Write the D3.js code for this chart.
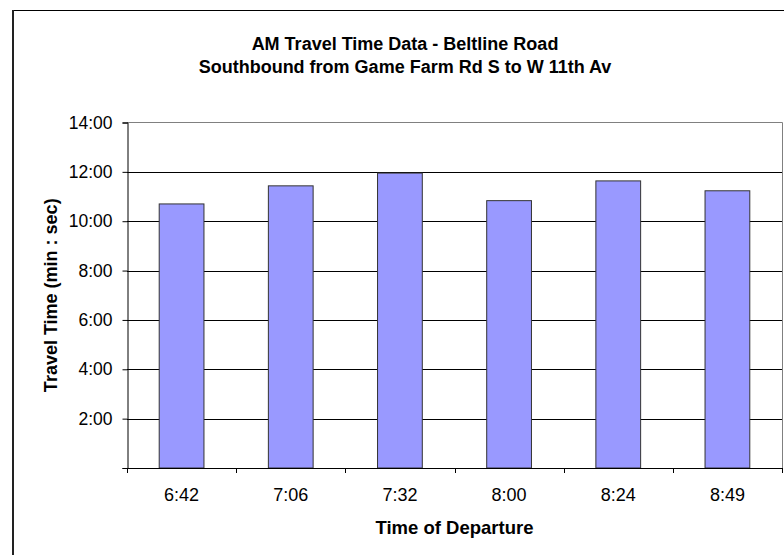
<!DOCTYPE html>
<html><head><meta charset="utf-8">
<script src="https://cdn.jsdelivr.net/npm/d3@7"></script>
<style>body{margin:0;background:#fff}svg{display:block;font-family:"Liberation Sans",Arial,sans-serif}</style>
</head><body><svg id="c" width="784" height="555"></svg>
<script>
const categories = ["6:42","7:06","7:32","8:00","8:24","8:49"];
const travelSeconds = [642, 686, 717, 650, 698, 674];
const yTickSeconds = [0,120,240,360,480,600,720,840];
const titleLines = ["AM Travel Time Data - Beltline Road","Southbound from Game Farm Rd S to W 11th Av"];
const xTitle = "Time of Departure";
const yTitle = "Travel Time (min : sec)";

const svg = d3.select("#c");
const L=127, R=782, T=122.5, B=468;
const fmt = s => s===0 ? "" : Math.floor(s/60)+":"+String(s%60).padStart(2,"0");

// outer chart border
svg.append("rect").attr("x",12.5).attr("y",10.5).attr("width",800).attr("height",600)
  .attr("fill","none").attr("stroke","#000").attr("stroke-width",1);
svg.append("line").attr("x1",13).attr("x2",13).attr("y1",10).attr("y2",560).attr("stroke","#222").attr("stroke-width",2);

const x = d3.scaleBand().domain(categories).range([L,R]).paddingInner(0.59).paddingOuter(0.295);
const y = d3.scaleLinear().domain([0,840]).range([B,T]);

// gridlines
svg.append("g").selectAll("line").data(yTickSeconds.filter(d=>d>0&&d<840)).join("line")
  .attr("x1",L).attr("x2",R).attr("y1",d=>Math.round(y(d))+0.5).attr("y2",d=>Math.round(y(d))+0.5)
  .attr("stroke","#000").attr("stroke-width",1);
// plot border top/right
svg.append("path").attr("d",`M${L},${T}H${R+0.5}V${B}`).attr("fill","none").attr("stroke","#808080").attr("stroke-width",1);

// bars
svg.append("g").selectAll("rect").data(categories).join("rect")
  .attr("x",(d)=>x(d)).attr("width",x.bandwidth())
  .attr("y",(d,i)=>y(travelSeconds[i])).attr("height",(d,i)=>B-y(travelSeconds[i]))
  .attr("fill","#9999FF").attr("stroke","#333").attr("stroke-width",1);

// y axis
const yAxis = d3.axisLeft(y).tickValues(yTickSeconds).tickFormat(fmt).tickSize(5).tickPadding(10);
const gy = svg.append("g").attr("transform",`translate(${L+0.5},0)`).call(yAxis);
gy.select(".domain").attr("stroke","#000");
gy.selectAll(".tick line").attr("stroke","#000");
gy.selectAll("text").attr("font-size",17.5).attr("fill","#000").attr("font-family","Liberation Sans, Arial");

// x axis with ticks at category boundaries
const bounds = d3.range(categories.length+1).map(i=>L+i*(R-L)/categories.length);
const gx = svg.append("g");
gx.append("line").attr("x1",L).attr("x2",R+0.5).attr("y1",B+0.5).attr("y2",B+0.5).attr("stroke","#000");
gx.selectAll("line.t").data(bounds).join("line").attr("class","t")
  .attr("x1",d=>Math.round(d)+0.5).attr("x2",d=>Math.round(d)+0.5).attr("y1",B).attr("y2",B+5).attr("stroke","#000");
gx.selectAll("text").data(categories).join("text")
  .attr("x",d=>x(d)+x.bandwidth()/2).attr("y",501).attr("text-anchor","middle")
  .attr("font-size",18).text(d=>d);

// titles
svg.append("text").attr("x",405).attr("y",50).attr("text-anchor","middle").attr("font-size",18).attr("font-weight","bold").text(titleLines[0]);
svg.append("text").attr("x",405).attr("y",73).attr("text-anchor","middle").attr("font-size",18).attr("font-weight","bold").text(titleLines[1]);
svg.append("text").attr("x",(L+R)/2).attr("y",534).attr("text-anchor","middle").attr("font-size",18.5).attr("font-weight","bold").text(xTitle);
svg.append("text").attr("transform",`translate(57,${(T+B)/2}) rotate(-90)`).attr("text-anchor","middle").attr("font-size",18).attr("font-weight","bold").text(yTitle);
</script></body></html>
